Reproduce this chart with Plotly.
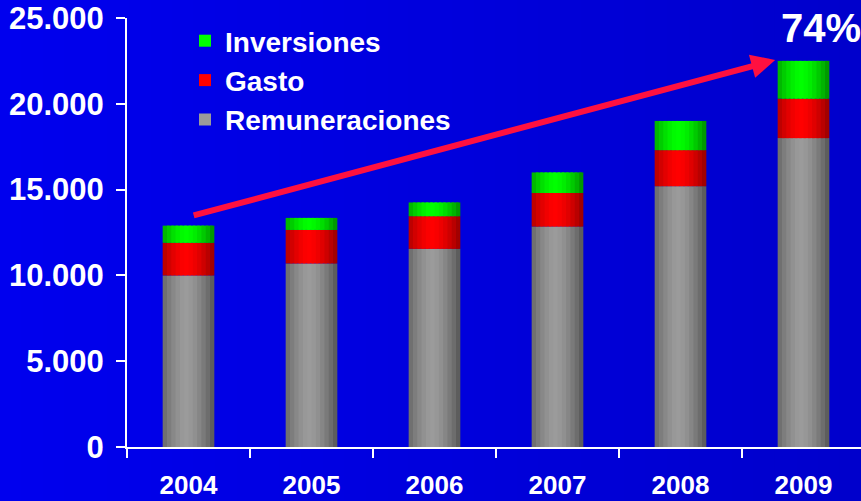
import plotly.graph_objects as go

# data
years = ["2004", "2005", "2006", "2007", "2008", "2009"]
remuneraciones = [10000, 10700, 11550, 12850, 15200, 18000]
gasto = [1900, 1950, 1900, 1950, 2100, 2300]
inversiones = [1000, 700, 800, 1200, 1700, 2200]
growth_label = "74%"

W, H = 861, 501
ML, MR, MT, MB = 127, 0, 18, 54
PW, PH = W - ML - MR, H - MT - MB

bar_w = 0.42
n_strips = 12


def shade(lo, hi, t):
    # cylinder-like shading, brightest a bit left of center
    f = 1 - abs((t - 0.45) / 0.55) ** 1.6
    f = max(0.0, min(1.0, f))
    c = [round(a + (b - a) * f) for a, b in zip(lo, hi)]
    return "rgb(%d,%d,%d)" % tuple(c)


series = [
    ("Remuneraciones", remuneraciones, (85, 85, 85), (155, 155, 155)),
    ("Gasto", gasto, (150, 0, 0), (255, 0, 0)),
    ("Inversiones", inversiones, (0, 140, 0), (0, 255, 0)),
]

fig = go.Figure()
base = [0] * len(years)
sw = bar_w / n_strips
for name, vals, lo, hi in series:
    for i in range(n_strips):
        t = (i + 0.5) / n_strips
        w = sw * 1.6 if i < n_strips - 1 else sw
        fig.add_trace(go.Bar(
            x=years, y=vals, base=base,
            width=w, offset=-bar_w / 2 + i * sw,
            marker=dict(color=shade(lo, hi, t), line=dict(width=0)),
            name=name, legendgroup=name,
            showlegend=(i == n_strips // 2 - 1),
            hoverinfo="skip",
        ))
    base = [b + v for b, v in zip(base, vals)]

# blue background, slightly darker on the right
n_bg = 40
for k in range(n_bg):
    px0 = W * k / n_bg
    px1 = W * (k + 1) / n_bg + 1
    t = k / (n_bg - 1)
    b = round(0xEE - (0xEE - 0xCC) * t)
    fig.add_shape(type="rect", xref="paper", yref="paper",
                  x0=(px0 - ML) / PW, x1=(px1 - ML) / PW,
                  y0=-1, y1=2, layer="below",
                  fillcolor="rgb(0,0,%d)" % b, line=dict(width=0))

# growth arrow from 2004 to 2009
fig.add_annotation(
    x=4.77, y=22550, ax=0.03, ay=13470,
    xref="x", yref="y", axref="x", ayref="y",
    text="", showarrow=True, arrowhead=2, arrowsize=0.8,
    arrowwidth=6, arrowcolor="#FF1040",
)
fig.add_annotation(
    x=(862 - ML) / PW, y=1 - (28 - MT) / PH,
    xref="paper", yref="paper", text="<b>" + growth_label + "</b>",
    showarrow=False, font=dict(size=40, color="white"),
    xanchor="right", yanchor="middle", borderpad=0,
)

fig.update_layout(
    width=W, height=H,
    margin=dict(l=ML, r=MR, t=MT, b=MB, autoexpand=False),
    barmode="overlay",
    separators=",.",
    paper_bgcolor="#0000E0",
    plot_bgcolor="rgba(0,0,0,0)",
    font=dict(family="Liberation Sans, Arial", color="white"),
    showlegend=True,
    legend=dict(
        x=(185 - ML) / PW, y=1 - (16 - MT) / PH,
        xanchor="left", yanchor="top",
        traceorder="reversed",
        bgcolor="rgba(0,0,0,0)",
        font=dict(size=28, color="white", weight="bold"),
        itemwidth=30,
    ),
    xaxis=dict(
        type="category", automargin=False,
        range=[-0.5, 5.5 - 4 / 123],
        showline=True, linecolor="white", linewidth=2,
        ticks="outside", tickson="boundaries", ticklen=9,
        tickcolor="white", tickwidth=2,
        ticklabelstandoff=14,
        tickfont=dict(size=26, color="white", weight="bold"),
        showgrid=False, zeroline=False, fixedrange=True,
    ),
    yaxis=dict(
        range=[0, 25000], automargin=False,
        tickvals=[0, 5000, 10000, 15000, 20000, 25000],
        tickformat=",d",
        showline=True, linecolor="white", linewidth=2,
        ticks="outside", ticklen=9, tickcolor="white", tickwidth=2,
        ticklabelstandoff=6,
        tickfont=dict(size=31, color="white", weight="bold"),
        showgrid=False, zeroline=False, fixedrange=True,
    ),
)

fig.write_html("out.html", config={"displayModeBar": False},
               post_script="document.body.style.margin='0';")
